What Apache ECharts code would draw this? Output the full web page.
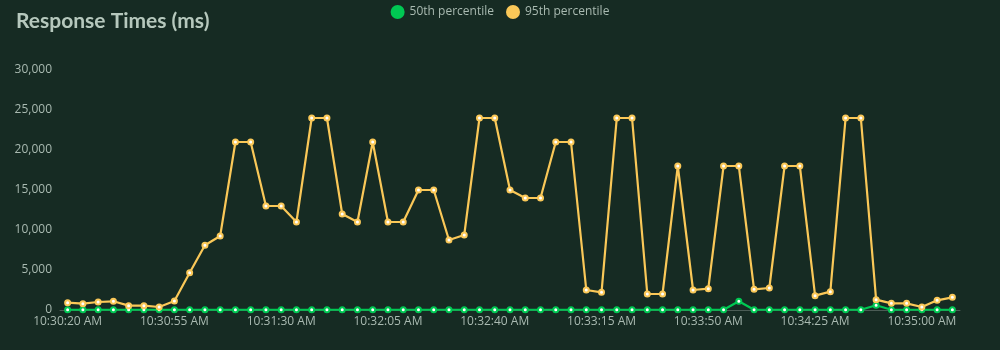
<!DOCTYPE html>
<html>
<head>
<meta charset="utf-8">
<script src="https://cdn.jsdelivr.net/npm/echarts@6/dist/echarts.min.js"></script>
<style>
  html, body { margin: 0; padding: 0; background: #162b23; }
  #chart { width: 1000px; height: 350px; }
</style>
</head>
<body>
<div id="chart"></div>
<script>
const categories = [
  "10:30:20 AM","10:30:25 AM","10:30:30 AM","10:30:35 AM","10:30:40 AM","10:30:45 AM","10:30:50 AM",
  "10:30:55 AM","10:31:00 AM","10:31:05 AM","10:31:10 AM","10:31:15 AM","10:31:20 AM","10:31:25 AM",
  "10:31:30 AM","10:31:35 AM","10:31:40 AM","10:31:45 AM","10:31:50 AM","10:31:55 AM","10:32:00 AM",
  "10:32:05 AM","10:32:10 AM","10:32:15 AM","10:32:20 AM","10:32:25 AM","10:32:30 AM","10:32:35 AM",
  "10:32:40 AM","10:32:45 AM","10:32:50 AM","10:32:55 AM","10:33:00 AM","10:33:05 AM","10:33:10 AM",
  "10:33:15 AM","10:33:20 AM","10:33:25 AM","10:33:30 AM","10:33:35 AM","10:33:40 AM","10:33:45 AM",
  "10:33:50 AM","10:33:55 AM","10:34:00 AM","10:34:05 AM","10:34:10 AM","10:34:15 AM","10:34:20 AM",
  "10:34:25 AM","10:34:30 AM","10:34:35 AM","10:34:40 AM","10:34:45 AM","10:34:50 AM","10:34:55 AM",
  "10:35:00 AM","10:35:05 AM","10:35:10 AM"
];

const p50 = [
  30, 30, 30, 30, 30, 30, 30, 30, 30, 30, 30, 30, 30, 30, 30, 30, 30, 30, 30, 30,
  30, 30, 30, 30, 30, 30, 30, 30, 30, 30, 30, 30, 30, 30, 30, 30, 30, 30, 30, 30,
  30, 30, 30, 30, 1100, 30, 30, 30, 30, 30, 30, 30, 30, 600, 30, 30, 30, 30, 30
];

const p95 = [
  910, 790, 1000, 1090, 540, 540, 375, 1125, 4660, 8090,
  9250, 21000, 21000, 13000, 13000, 11000, 24000, 24000, 12000, 11000,
  21000, 11000, 11000, 15000, 15000, 8750, 9375, 24000, 24000, 15000,
  14000, 14000, 21000, 21000, 2500, 2210, 24000, 24000, 2000, 2000,
  18000, 2500, 2670, 18000, 18000, 2580, 2750, 18000, 18000, 1790,
  2290, 24000, 24000, 1290, 830, 830, 375, 1210, 1580
];

const seriesNames = ["50th percentile", "95th percentile"];
const seriesColors = ["#00c853", "#fac858"];
const yTicks = { min: 0, max: 30000, interval: 5000 };

const chart = echarts.init(document.getElementById('chart'), null, { renderer: 'canvas' });
const textColor = '#a9bab1';
chart.setOption({
  backgroundColor: '#162b23',
  animation: false,
  title: {
    text: 'Response Times (ms)',
    left: 11, top: 6,
    textStyle: { color: '#b6c8bd', fontSize: 21, fontWeight: 'bold', fontFamily: 'Lato' }
  },
  legend: {
    top: 0, left: 'center',
    icon: 'circle', itemWidth: 14, itemHeight: 14, itemGap: 12,
    textStyle: { color: textColor, fontSize: 12, fontFamily: 'Open Sans' },
    data: seriesNames.map((n, i) => ({ name: n, itemStyle: { color: seriesColors[i], borderWidth: 0 } }))
  },
  grid: { left: 60, right: 40, top: 70, bottom: 40 },
  xAxis: {
    type: 'category',
    data: categories,
    boundaryGap: true,
    axisLine: { lineStyle: { color: '#4b5c55' } },
    axisTick: { interval: 6, lineStyle: { color: '#4b5c55' }, length: 4 },
    axisLabel: { interval: 6, color: textColor, fontSize: 12, fontFamily: 'Open Sans', margin: 6 }
  },
  yAxis: {
    type: 'value',
    min: yTicks.min, max: yTicks.max, interval: yTicks.interval,
    splitLine: { show: false },
    axisLine: { show: false },
    axisTick: { show: false },
    axisLabel: {
      color: textColor, fontSize: 12, fontFamily: 'Open Sans', margin: 8,
      formatter: v => v.toLocaleString('en-US')
    }
  },
  series: [p50, p95].map((d, i) => ({
    name: seriesNames[i], type: 'line', data: d,
    color: seriesColors[i],
    symbol: 'emptyCircle', symbolSize: 5, showAllSymbol: true,
    lineStyle: { width: 2.2, color: seriesColors[i] },
    itemStyle: { color: seriesColors[i], borderColor: seriesColors[i], borderWidth: 2.5 }
  }))
});
</script>
</body>
</html>
